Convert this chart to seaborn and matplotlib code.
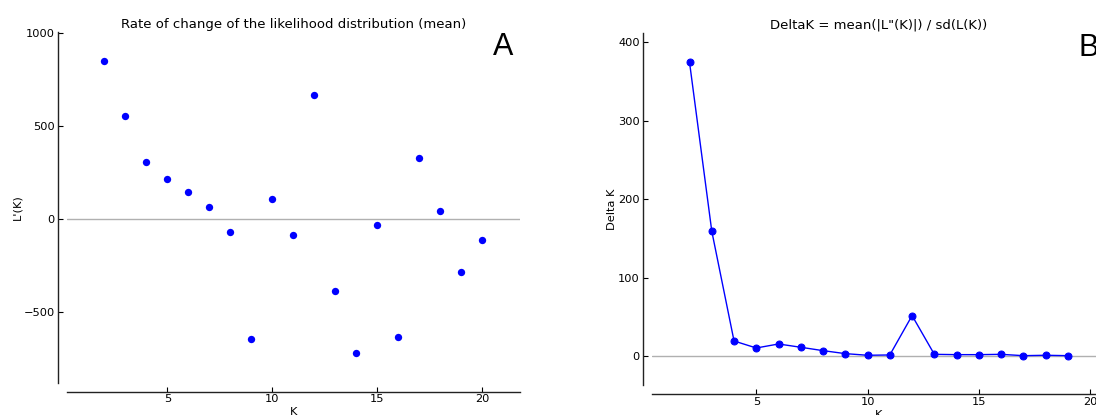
import numpy as np
import pandas as pd
import matplotlib
matplotlib.use("Agg")
import matplotlib.pyplot as plt
import seaborn as sns

# ---- data ----
k_rate = list(range(2, 21))
rate_mean = [851, 553, 307, 217, 147, 66, -68, -644, 108, -83,
             670, -386, -722, -34, -632, 332, 45, -285, -111]

k_delta = list(range(2, 20))
delta_k = [374.5, 159.1, 19.1, 10.2, 15.3, 11.1, 6.8, 3.0, 0.9, 1.3,
           51.5, 2.1, 1.7, 1.7, 2.1, 0.4, 0.9, 0.4]

title_a = "Rate of change of the likelihood distribution (mean)"
title_b = 'DeltaK = mean(|L"(K)|) / sd(L(K))'
ylabel_a = "L'(K)"
ylabel_b = "Delta K"
xlabel = "K"

sns.set_style("white")
plt.rcParams['font.family'] = ['DejaVu Sans']
plt.rcParams['text.color'] = 'black'
plt.rcParams['axes.labelcolor'] = 'black'

df_a = pd.DataFrame({"K": k_rate, "val": rate_mean})
df_b = pd.DataFrame({"K": k_delta, "val": delta_k})

fig = plt.figure(figsize=(10.96, 4.15), dpi=100)
W, H = 1096, 415
ax1 = fig.add_axes([66.7 / W, (H - 382.5) / H, 453.3 / W, 350.6 / H])
ax2 = fig.add_axes([651.7 / W, (H - 385.0) / H, 454.0 / W, 352.0 / H])


def pad_range(vals, frac=0.1):
    lo, hi = min(vals), max(vals)
    r = hi - lo
    return lo - frac * r, hi + frac * r


def style(ax, xs, data, title, ylabel, letter):
    ax.set_ylim(*pad_range(data))
    ax.set_xlim(*pad_range(xs))
    ax.axhline(0, color="#b0b0b0", lw=1.0, zorder=1)
    for s in ["top", "right"]:
        ax.spines[s].set_visible(False)
    for s in ["left", "bottom"]:
        ax.spines[s].set_position(("outward", 6.5))
        ax.spines[s].set_color("#222222")
        ax.spines[s].set_linewidth(1.0)
    ax.tick_params(axis="both", direction="in", length=3.5, width=0.8,
                   labelsize=8.2, pad=2, colors="black",
                   left=True, bottom=True)
    ax.set_title(title, fontsize=9.5, pad=3, color="black")
    ax.set_ylabel(ylabel, fontsize=8.2, labelpad=1)
    ax.set_xlabel(xlabel, fontsize=8.2, labelpad=2)
    ax.text(0.94, 1.0, letter, transform=ax.transAxes, ha="left", va="top",
            fontsize=22, family="Liberation Sans", color="black")


sns.scatterplot(data=df_a, x="K", y="val", ax=ax1, color="#0000ff",
                s=28, edgecolor="#0000ff", linewidth=0, zorder=3)
ax1.set_xticks([5, 10, 15, 20])
ax1.set_yticks([-500, 0, 500, 1000])
style(ax1, k_rate, rate_mean, title_a, ylabel_a, "A")

sns.lineplot(data=df_b, x="K", y="val", ax=ax2, color="#0000ff",
             marker="o", markersize=5, markeredgecolor="#0000ff",
             linewidth=1.0, zorder=3)
ax2.set_xticks([5, 10, 15, 20])
ax2.set_yticks([0, 100, 200, 300, 400])
style(ax2, k_delta, delta_k, title_b, ylabel_b, "B")

fig.savefig("out.png", dpi=100)
